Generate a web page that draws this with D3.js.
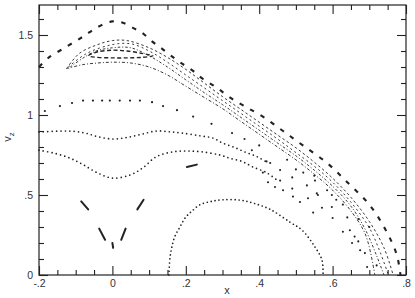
<!DOCTYPE html>
<html>
<head>
<meta charset="utf-8">
<script src="https://cdn.jsdelivr.net/npm/d3@7"></script>
<style>
  body { margin: 0; background: #fff; }
  text { font-family: "Liberation Sans", Arial, sans-serif; fill: #333; }
</style>
</head>
<body>
<div id="chart"></div>
<script>
// axis ticks
var xMajor = [-0.2, 0, 0.2, 0.4, 0.6, 0.8];
var xMajorLabels = ["-.2", "0", ".2", ".4", ".6", ".8"];
var xMinor = [-0.15, -0.1, -0.05, 0.05, 0.1, 0.15, 0.25, 0.3, 0.35, 0.45, 0.5, 0.55, 0.65, 0.7, 0.75];
var yMajor = [0, 0.5, 1, 1.5];
var yMajorLabels = ["0", ".5", "1", "1.5"];
var yMinor = [0.1, 0.2, 0.3, 0.4, 0.6, 0.7, 0.8, 0.9, 1.1, 1.2, 1.3, 1.4, 1.6];

// outer heavy dashed orbit
var orbitOuter = [[-0.2,1.30],[-0.175,1.356],[-0.13,1.42],[-0.08,1.49],[-0.04,1.55],[0,1.585],[0.03,1.575],
  [0.06,1.54],[0.083,1.51],[0.108,1.46],[0.132,1.42],[0.157,1.375],[0.184,1.33],[0.217,1.28],[0.247,1.225],
  [0.285,1.17],[0.32,1.11],[0.364,1.05],[0.41,0.99],[0.465,0.90],[0.519,0.81],[0.585,0.70],[0.64,0.58],
  [0.70,0.44],[0.745,0.28],[0.775,0.125],[0.785,0.0]];

// thin dashed separatrix band
var band1 = [[-0.125,1.29],[-0.09,1.385],[-0.04,1.44],[0,1.465],[0.04,1.465],[0.1,1.42],[0.15,1.36],[0.2,1.285],
  [0.25,1.2],[0.3,1.115],[0.35,1.035],[0.4,0.955],[0.45,0.875],[0.5,0.795],[0.55,0.705],[0.6,0.605],
  [0.65,0.485],[0.7,0.335],[0.74,0.17],[0.765,0.0]];
var band2 = [[-0.12,1.3],[-0.07,1.385],[0,1.44],[0.05,1.445],[0.1,1.40],[0.15,1.33],[0.2,1.25],[0.25,1.17],
  [0.3,1.09],[0.35,1.01],[0.4,0.93],[0.45,0.85],[0.5,0.765],[0.55,0.68],[0.6,0.58],[0.65,0.455],
  [0.7,0.295],[0.73,0.14],[0.752,0.0]];
var band3 = [[-0.115,1.3],[-0.05,1.395],[0,1.42],[0.05,1.42],[0.1,1.37],[0.15,1.30],[0.2,1.22],[0.25,1.14],
  [0.3,1.065],[0.35,0.985],[0.4,0.905],[0.45,0.825],[0.5,0.745],[0.55,0.655],[0.6,0.555],[0.65,0.43],
  [0.69,0.28],[0.72,0.12],[0.74,0.0]];
var band4 = [[-0.125,1.29],[-0.08,1.315],[-0.04,1.325],[0,1.33],[0.05,1.325],[0.1,1.30],[0.15,1.25],[0.2,1.18],
  [0.25,1.11],[0.3,1.04],[0.35,0.96],[0.4,0.88],[0.45,0.80],[0.5,0.72],[0.55,0.63],[0.6,0.53],
  [0.65,0.40],[0.69,0.25],[0.715,0.0]];

// small island inside the lens
var island = [[-0.065,1.37],[-0.04,1.36],[0,1.357],[0.04,1.357],[0.08,1.36],[0.11,1.37],[0.08,1.385],
  [0.04,1.40],[0,1.405],[-0.04,1.395]];

// dotted orbits
var orbitTop = [[-0.184,1.025],[-0.143,1.056],[-0.11,1.075],[-0.08,1.09],[-0.053,1.09],[-0.028,1.09],[-0.007,1.09],
  [0.02,1.09],[0.048,1.09],[0.075,1.09],[0.108,1.08],[0.138,1.056],[0.176,1.03],[0.22,0.99],[0.27,0.945]];
var orbitMid = [[-0.2,0.894],[-0.13,0.9],[-0.1,0.897],[-0.07,0.885],[-0.04,0.865],[0,0.85],[0.04,0.86],
  [0.08,0.88],[0.12,0.9],[0.157,0.895],[0.19,0.887],[0.239,0.87],[0.274,0.856],[0.30,0.825],[0.33,0.80],
  [0.36,0.77],[0.394,0.74],[0.424,0.70]];
var orbitLow = [[-0.2,0.78],[-0.156,0.76],[-0.115,0.73],[-0.08,0.69],[-0.042,0.64],[0,0.606],[0.048,0.625],
  [0.083,0.67],[0.12,0.74],[0.165,0.77],[0.203,0.775],[0.244,0.77],[0.293,0.75],[0.32,0.73],[0.353,0.71],
  [0.383,0.675],[0.42,0.64],[0.45,0.59]];
var orbitArc = [[0.154,0.0],[0.157,0.11],[0.162,0.175],[0.17,0.24],[0.184,0.30],[0.198,0.356],[0.217,0.40],
  [0.239,0.44],[0.27,0.46],[0.30,0.47],[0.348,0.468],[0.383,0.45],[0.43,0.41],[0.484,0.33],[0.517,0.28],
  [0.552,0.175],[0.571,0.094],[0.574,0.0]];

// island chain segments
var chain = [
  [[-0.085,0.46],[-0.066,0.41]],
  [[-0.036,0.29],[-0.02,0.22]],
  [[0.0,0.2],[0.002,0.17]],
  [[0.024,0.22],[0.036,0.29]],
  [[0.068,0.41],[0.085,0.47]],
  [[0.203,0.675],[0.23,0.69]]
];

// scattered points
var sea = [[0.42,0.71],[0.43,0.70],[0.476,0.72],[0.41,0.64],[0.457,0.656],[0.424,0.58],[0.457,0.59],[0.49,0.61],
  [0.49,0.54],[0.53,0.56],[0.552,0.59],[0.557,0.51],[0.585,0.53],[0.598,0.50],[0.533,0.48],[0.443,0.55],
  [0.465,0.53],[0.492,0.49],[0.511,0.456],[0.56,0.50],[0.547,0.39],[0.571,0.42],[0.598,0.425],[0.60,0.356],
  [0.628,0.44],[0.628,0.27],[0.647,0.28],[0.653,0.20],[0.67,0.21],[0.675,0.155],[0.688,0.137],[0.694,0.05],
  [0.72,0.06],[0.70,0.30],[0.67,0.35],[0.40,0.81],[0.36,0.85],[0.326,0.887],[0.5,0.66],[0.52,0.64],
  [0.55,0.62],[0.38,0.78],[0.64,0.36],[0.61,0.47],[0.66,0.24]];

var margin = {top: 5, left: 39, right: 9, bottom: 23},
    W = 415, H = 298,
    width = W - margin.left - margin.right,
    height = H - margin.top - margin.bottom;

var svg = d3.select("#chart").append("svg")
    .attr("width", W).attr("height", H);
var g = svg.append("g")
    .attr("transform", "translate(" + margin.left + "," + margin.top + ")");

var x = d3.scaleLinear().domain([-0.2, 0.8]).range([0, width]);
var y = d3.scaleLinear().domain([0, 1.6875]).range([height, 0]);

var ink = "#222";

// frame
g.append("rect").attr("width", width).attr("height", height)
  .attr("fill", "none").attr("stroke", ink).attr("stroke-width", 1.2);

// ticks point inward, labels stay outside
function tickAxis(axisFn, scale, values, size, labels, pad) {
  var a = axisFn(scale).tickValues(values).tickSizeInner(-size).tickSizeOuter(0).tickPadding(pad || 5);
  if (labels) a.tickFormat(function(d, i) { return labels[i]; });
  else a.tickFormat("");
  return a;
}

function styleAxis(sel) {
  sel.select(".domain").remove();
  sel.selectAll("line").attr("stroke", ink).attr("stroke-width", 1.1);
  sel.selectAll("text").attr("font-size", 10.5).attr("fill", "#333");
}

g.append("g").attr("transform", "translate(0," + height + ")")
  .call(tickAxis(d3.axisBottom, x, xMajor, 9, xMajorLabels, 5)).call(styleAxis);
g.append("g").attr("transform", "translate(0," + height + ")")
  .call(tickAxis(d3.axisBottom, x, xMinor, 5)).call(styleAxis);
g.append("g").call(tickAxis(d3.axisTop, x, xMajor, 9)).call(styleAxis);
g.append("g").call(tickAxis(d3.axisTop, x, xMinor, 5)).call(styleAxis);

g.append("g").call(tickAxis(d3.axisLeft, y, yMajor, 9, yMajorLabels, 6)).call(styleAxis);
g.append("g").call(tickAxis(d3.axisLeft, y, yMinor, 5)).call(styleAxis);
g.append("g").attr("transform", "translate(" + width + ",0)")
  .call(tickAxis(d3.axisRight, y, yMajor, 9)).call(styleAxis);
g.append("g").attr("transform", "translate(" + width + ",0)")
  .call(tickAxis(d3.axisRight, y, yMinor, 5)).call(styleAxis);

var line = d3.line()
  .x(function(d) { return x(d[0]); })
  .y(function(d) { return y(d[1]); })
  .curve(d3.curveCatmullRom);

var plot = g.append("g");

function drawCurve(data, w, dash, cap) {
  plot.append("path").datum(data)
    .attr("d", line)
    .attr("fill", "none")
    .attr("stroke", ink)
    .attr("stroke-width", w)
    .attr("stroke-dasharray", dash)
    .attr("stroke-linecap", cap || "butt");
}

drawCurve(orbitOuter, 2.1, "4.5,7.5");
drawCurve(band1, 0.9, "2.5,2.5");
drawCurve(band2, 0.9, "2,3");
drawCurve(band3, 0.9, "2.5,2,1,2");
drawCurve(band4, 0.9, "3,2,1,2");

plot.append("path").datum(island)
  .attr("d", d3.line().x(function(d) { return x(d[0]); }).y(function(d) { return y(d[1]); })
    .curve(d3.curveCardinalClosed))
  .attr("fill", "none").attr("stroke", ink).attr("stroke-width", 1.4)
  .attr("stroke-dasharray", "4,2.5");

drawCurve(orbitMid, 1.7, "0,4.4", "round");
drawCurve(orbitLow, 1.7, "0,4.4", "round");
drawCurve(orbitArc, 1.7, "0,4", "round");

plot.selectAll(".chain").data(chain).enter().append("path")
  .attr("class", "chain")
  .attr("d", d3.line().x(function(d) { return x(d[0]); }).y(function(d) { return y(d[1]); }))
  .attr("stroke", ink).attr("stroke-width", 2).attr("stroke-linecap", "round");

plot.selectAll(".top").data(orbitTop).enter().append("circle")
  .attr("class", "top")
  .attr("cx", function(d) { return x(d[0]); })
  .attr("cy", function(d) { return y(d[1]); })
  .attr("r", 1.1).attr("fill", ink);

plot.selectAll(".sea").data(sea).enter().append("circle")
  .attr("class", "sea")
  .attr("cx", function(d) { return x(d[0]); })
  .attr("cy", function(d) { return y(d[1]); })
  .attr("r", 1.05).attr("fill", ink);

// axis titles
svg.append("text")
  .attr("x", 227).attr("y", 294)
  .attr("text-anchor", "middle")
  .attr("font-family", "'Liberation Serif', serif")
  .attr("font-size", 11)
  .text("x");

var yt = svg.append("text")
  .attr("transform", "translate(11,137) rotate(-90)")
  .attr("text-anchor", "middle")
  .attr("font-family", "'Liberation Serif', serif")
  .attr("font-size", 11);
yt.append("tspan").text("v");
yt.append("tspan").attr("font-size", 8).attr("dy", 3).text("z");
</script>
</body>
</html>
